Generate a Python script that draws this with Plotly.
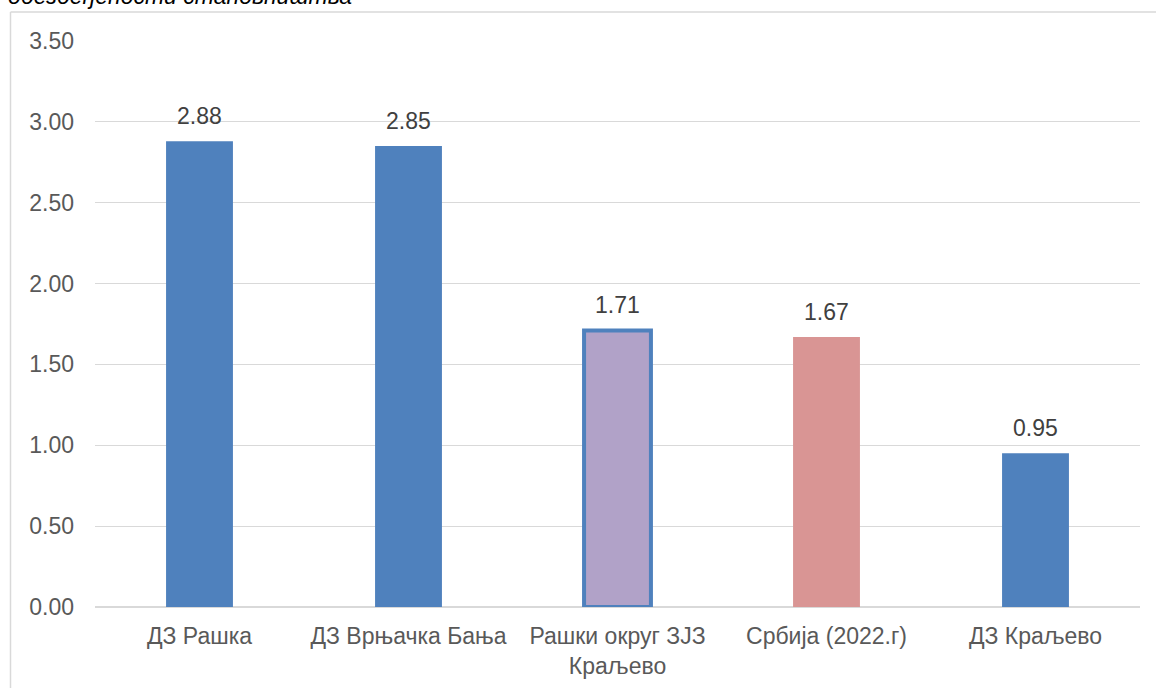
import plotly.graph_objects as go

categories = ["ДЗ Рашка", "ДЗ Врњачка Бања", "Рашки округ ЗЈЗ<br>Краљево", "Србија (2022.г)", "ДЗ Краљево"]
values = [2.88, 2.85, 1.71, 1.67, 0.95]
value_labels = ["2.88", "2.85", "1.71", "1.67", "0.95"]
tick_vals = [0, 0.5, 1.0, 1.5, 2.0, 2.5, 3.0, 3.5]
tick_text = ["0.00", "0.50", "1.00", "1.50", "2.00", "2.50", "3.00", "3.50"]
title_text = "обезбеђености становништва"

fill_colors = ["#4F81BD", "#4F81BD", "#B1A2C8", "#D99594", "#4F81BD"]
line_colors = ["#4F81BD", "#4F81BD", "#4F81BD", "#D99594", "#4F81BD"]
line_widths = [0, 0, 4, 0, 0]

FONT = "Liberation Sans, Arial, sans-serif"

fig = go.Figure()
fig.add_trace(go.Bar(
    x=categories, y=values,
    marker=dict(color=fill_colors, line=dict(color=line_colors, width=line_widths)),
    hoverinfo="skip",
))

for c, v, t in zip(categories, values, value_labels):
    fig.add_annotation(x=c, y=v, text=t, showarrow=False, yanchor="bottom",
                       yshift=10, font=dict(family=FONT, size=23, color="#404040"))

W, H = 1156, 688
L, R, T, B = 95, 16, 41, 81
pw, ph = W - L - R, H - T - B

def px(xp):
    return (xp - L) / pw

def py(yp):
    return (H - B - yp) / ph

# outer chart border (top and left visible)
fig.add_shape(type="line", xref="paper", yref="paper", x0=px(10.5), x1=px(1160), y0=py(12), y1=py(12),
              line=dict(color="#D9D9D9", width=1.5))
fig.add_shape(type="line", xref="paper", yref="paper", x0=px(10.5), x1=px(10.5), y0=py(12), y1=py(700),
              line=dict(color="#D9D9D9", width=1.5))

fig.add_annotation(xref="paper", yref="paper", x=px(6), y=py(-19), xanchor="left", yanchor="top",
                   text=title_text, showarrow=False,
                   font=dict(family=FONT, size=23, color="#000000", style="italic"))

fig.update_layout(
    width=W, height=H,
    margin=dict(l=L, r=R, t=T, b=B, pad=0, autoexpand=False),
    paper_bgcolor="white", plot_bgcolor="white",
    bargap=0.68,
    showlegend=False,
    font=dict(family=FONT, size=23, color="#595959"),
    xaxis=dict(showgrid=False, showline=False, ticks="", tickfont=dict(size=23, color="#595959"),
               ticklabelstandoff=13, fixedrange=True, automargin=False),
    yaxis=dict(range=[0, 3.5], tickvals=tick_vals, ticktext=tick_text, showgrid=True,
               gridcolor="#D9D9D9", gridwidth=1, zeroline=True, zerolinecolor="#D9D9D9", zerolinewidth=1.5,
               showline=False, ticks="", tickfont=dict(size=23, color="#595959"),
               ticklabelstandoff=20, fixedrange=True, automargin=False),
)

fig.write_html("out.html")
